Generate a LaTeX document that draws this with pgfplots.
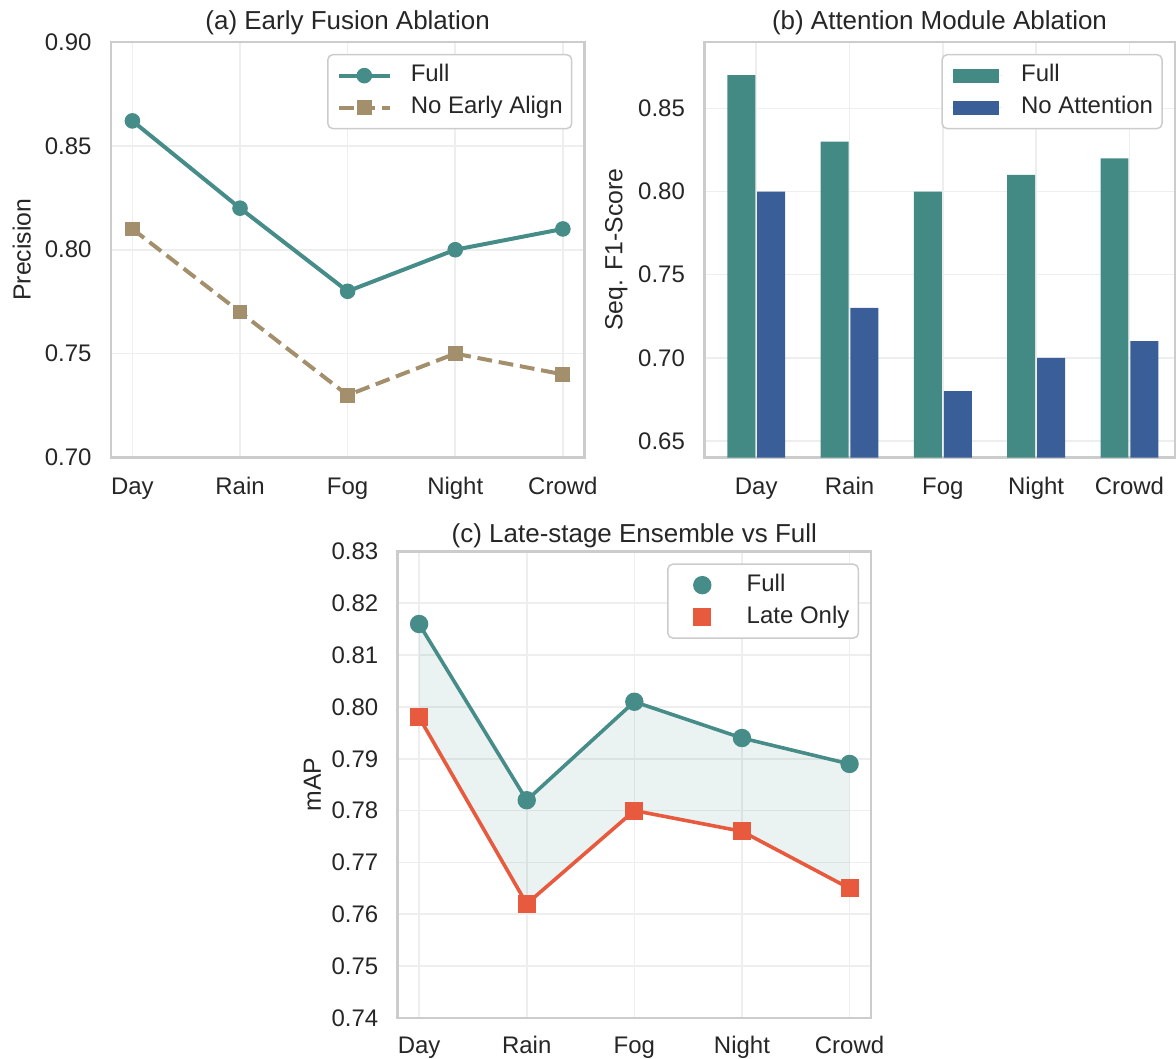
\documentclass[border=0pt]{standalone}
\usepackage{fontspec}
\setmainfont{Liberation Sans}
\usepackage{pgfplots}
\usepackage{pgfplotstable}
\pgfplotsset{compat=1.18}

\definecolor{teal1}{RGB}{70,140,136}
\definecolor{barfull}{RGB}{67,138,132}
\definecolor{barblue}{RGB}{58,94,151}
\definecolor{tan1}{RGB}{163,143,107}
\definecolor{late}{RGB}{232,90,62}
\definecolor{spine}{RGB}{204,204,204}
\definecolor{gridc}{RGB}{238,238,238}
\definecolor{txt}{RGB}{38,38,38}

% (a) precision per condition
\pgfplotstableread{
x full noalign
0 0.862 0.81
1 0.820 0.77
2 0.780 0.73
3 0.800 0.75
4 0.810 0.74
}\earlytab

% (b) sequence F1 per condition
\pgfplotstableread{
x full noatt
0 0.87 0.80
1 0.83 0.73
2 0.80 0.68
3 0.81 0.70
4 0.82 0.71
}\atttab

% (c) mAP per condition
\pgfplotstableread{
x full late
0 0.816 0.798
1 0.782 0.762
2 0.801 0.780
3 0.794 0.776
4 0.789 0.765
}\latetab

% (c) gap band: full curve left to right, then late curve back
\pgfplotstableread{
x y
0 0.816
1 0.782
2 0.801
3 0.794
4 0.789
4 0.765
3 0.776
2 0.780
1 0.762
0 0.798
}\bandtab

\pgfplotsset{
  panel/.style={
    scale only axis,
    anchor=south west,
    axis line style={draw=spine, line width=1.25pt},
    major tick length=0pt,
    grid=major,
    grid style={draw=gridc, line width=0.8pt},
    tick label style={font=\fontsize{12}{14}\selectfont, text=txt},
    xtick={0,1,2,3,4},
    xticklabels={Day,Rain,Fog,Night,Crowd},
    xticklabel style={anchor=north, inner sep=0pt, yshift=-9.5pt, text height=8.6pt, text depth=2.3pt},
    yticklabel style={anchor=east, inner sep=0pt, xshift=-9.5pt,
      /pgf/number format/fixed, /pgf/number format/fixed zerofill,
      /pgf/number format/precision=2, /pgf/number format/assume math mode=true},
    scaled y ticks=false,
    every axis title/.style={font=\fontsize{13}{15}\selectfont, text=txt, at={(0.5,1)}, anchor=base, yshift=6pt},
    ylabel style={font=\fontsize{12.4}{15}\selectfont, text=txt, anchor=center},
    legend style={at={(1,1)}, anchor=north east, xshift=-6pt, yshift=-6pt,
      draw=spine, line width=0.75pt, rounded corners=2.5pt, fill=white,
      inner xsep=4.5pt, inner ysep=4.9pt, row sep=4.8pt, column sep=9.5pt,
      nodes={anchor=west, inner sep=0pt, text height=8.6pt, text depth=2.6pt,
        font=\fontsize{12}{14}\selectfont, text=txt}},
  }
}

\begin{document}
\begin{tikzpicture}
\path (0pt,0pt) rectangle (588pt,529.5pt);

% (a) Early fusion ablation
\begin{axis}[panel,
  at={(55.5pt,300.5pt)}, width=237pt, height=208pt,
  xmin=-0.2, xmax=4.2, ymin=0.70, ymax=0.90,
  ytick={0.70,0.75,0.80,0.85,0.90},
  title={(a) Early Fusion Ablation},
  ylabel={Precision},
  ylabel style={at={(axis description cs:-0.188,0.5)}},
  legend image code/.code={\draw[mark repeat=2, mark phase=2, #1, sharp corners] plot coordinates {(0pt,0pt) (12.75pt,0pt) (25.5pt,0pt)};},
]
\addplot[teal1, line width=2pt, mark=*, mark size=3.6pt, mark options={solid, line width=0.6pt}]
  table[x=x, y=full] {\earlytab};
\addplot[tan1, line width=2pt, dash pattern=on 7.4pt off 3.4pt, mark=square*, mark size=3.4pt, mark options={solid, line width=0.6pt}]
  table[x=x, y=noalign] {\earlytab};
\legend{Full, No Early Align}
\end{axis}

% (b) Attention module ablation
\begin{axis}[panel,
  at={(352.5pt,300.5pt)}, width=235.5pt, height=208pt,
  xmin=-0.557, xmax=4.486, ymin=0.64, ymax=0.89,
  ytick={0.65,0.70,0.75,0.80,0.85},
  title={(b) Attention Module Ablation},
  ylabel={Seq. F1-Score},
  ylabel style={at={(axis description cs:-0.187,0.5)}},
]
\addplot[ybar, fill=barfull, draw=none, bar width=0.3, bar shift=-0.16,
  legend image code/.code={\fill[barfull, sharp corners] (1pt,-3.5pt) rectangle (24pt,3.5pt); \path[draw=none] (0pt,0pt) -- (25.5pt,0pt);}]
  table[x=x, y=full] {\atttab};
\addplot[ybar, fill=barblue, draw=none, bar width=0.3, bar shift=0.16,
  legend image code/.code={\fill[barblue, sharp corners] (1pt,-3.5pt) rectangle (24pt,3.5pt); \path[draw=none] (0pt,0pt) -- (25.5pt,0pt);}]
  table[x=x, y=noatt] {\atttab};
\legend{Full, No Attention}
\end{axis}

% (c) Late-stage ensemble vs full
\begin{axis}[panel,
  at={(199pt,20pt)}, width=237pt, height=233.5pt,
  xmin=-0.2, xmax=4.2, ymin=0.74, ymax=0.83,
  ytick={0.74,0.75,0.76,0.77,0.78,0.79,0.80,0.81,0.82,0.83},
  xticklabel style={yshift=0.5pt},
  title={(c) Late-stage Ensemble vs Full},
  title style={yshift=-1.5pt},
  ylabel={mAP},
  ylabel style={at={(axis description cs:-0.18,0.5)}},
  legend image code/.code={\path[#1, sharp corners] plot coordinates {(12.75pt,0pt)}; \path[draw=none] (0pt,0pt) -- (25.5pt,0pt);},
]
\addplot[forget plot, fill=teal1, fill opacity=0.11, draw=none]
  table[x=x, y=y] {\bandtab} -- cycle;
\addplot[teal1, line width=1.8pt, mark=*, mark size=4.3pt, mark options={line width=0.6pt}]
  table[x=x, y=full] {\latetab};
\addplot[late, line width=1.8pt, mark=square*, mark size=4.2pt, mark options={line width=0.6pt}]
  table[x=x, y=late] {\latetab};
\legend{Full, Late Only}
\end{axis}
\end{tikzpicture}
\end{document}
